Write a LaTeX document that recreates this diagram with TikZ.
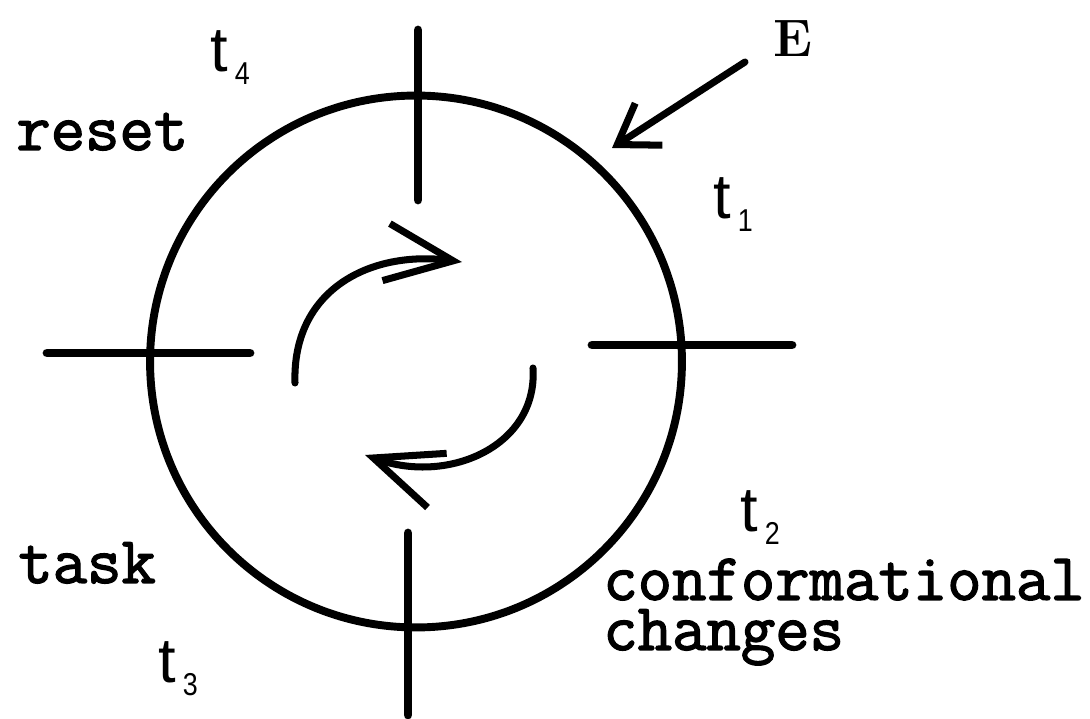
\documentclass[tikz,border=0pt]{standalone}
\usepackage{fontspec}
\newfontfamily\courf{Latin Modern Mono}[FakeBold=2]
\newfontfamily\subfont{Liberation Sans}
\usepackage{graphicx}
\usepackage{tikz}
\usetikzlibrary{arrows.meta}
\definecolor{ink}{HTML}{000000}
\tikzset{
  anillo/.style={draw=ink,circle,line width=4.5pt,minimum size=10.64cm,inner sep=0pt,outer sep=0pt},
  barra/.style={draw=ink,line width=5pt,line cap=round},
  flecha/.style={-{Straight Barb[length=1.35cm,width=1.15cm]},line width=4pt,line cap=round,color=ink},
  flechae/.style={-{Straight Barb[length=0.75cm,width=1.0cm]},line width=4pt,line cap=round,color=ink},
  etiqueta/.style={anchor=base west,inner sep=0pt,color=ink},
  texto/.style={anchor=base west,inner sep=0pt,color=ink,font=\courf\fontsize{38}{28.5}\selectfont},
}
\newcommand{\tlab}[1]{{\subfont\fontsize{36}{36}\selectfont t}\hspace{4pt}\raisebox{-7pt}{\scalebox{0.85}[1]{\subfont\fontsize{18}{18}\selectfont #1}}}

\begin{document}
\begin{tikzpicture}[x=0.02cm,y=-0.02cm]
  \useasboundingbox (0,0) rectangle (1090,719);
  % anillo y las cuatro transiciones
  \node[anillo] (ciclo) at (416,361.5) {};
  \foreach \xa/\ya/\xb/\yb in {418/30/418/200, 47/353/250/353, 592/345/792/345, 408/533/408/715}
    \draw[barra] (\xa,\ya) -- (\xb,\yb);
  % etiquetas t1..t4
  \node[etiqueta] (t1) at (713,219) {\tlab{1}};
  \node[etiqueta] (t2) at (740,532) {\tlab{2}};
  \node[etiqueta] (t3) at (158,683) {\tlab{3}};
  \node[etiqueta] (t4) at (210,72) {\tlab{4}};
  % textos
  \node[texto] (reset) at (16,150) {reset};
  \node[texto] (task) at (18,583) {task};
  \node[texto,align=left] (conf) at (603,650) {conformational\\changes};
  % entrada E
  \node[etiqueta,font=\bfseries\fontsize{30}{30}\selectfont] (E) at (773,57) {E};
  \coordinate (ecola) at (745,62);
  \coordinate (epunta) at (612,148);
  \draw[flechae] (ecola) -- (epunta);
  % giro interior
  \coordinate (a1) at (295,383);
  \coordinate (a2) at (462,262);
  \draw[flecha] (a1) .. controls (292,290) and (370,250) .. (a2);
  \coordinate (b1) at (533,368);
  \coordinate (b2) at (365,455);
  \draw[flecha] (b1) .. controls (538,445) and (450,485) .. (b2);
\end{tikzpicture}
\end{document}
